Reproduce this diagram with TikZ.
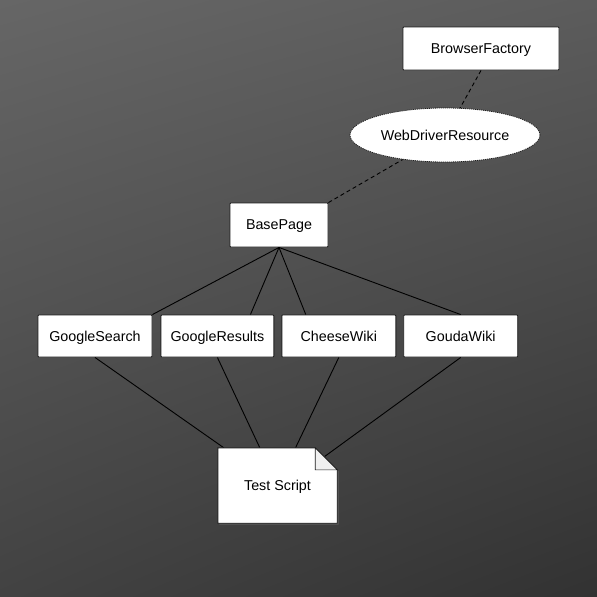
\documentclass[tikz,border=0pt]{standalone}
\usepackage{fontspec}
\setmainfont{Liberation Sans}
\usepackage{tikz}
\usetikzlibrary{positioning,shapes.geometric,shadows,shadings,calc}
\definecolor{bgtl}{RGB}{102,102,102}
\definecolor{bgtr}{RGB}{92,92,92}
\definecolor{bgbl}{RGB}{66,66,66}
\definecolor{bgbr}{RGB}{50,50,50}
\definecolor{edgegray}{RGB}{30,30,30}

\begin{document}
\begin{tikzpicture}[x=1pt, y=-1pt, every node/.style={font=\fontsize{14.3}{17}\selectfont}]
\tikzstyle{box}=[draw=edgegray, line width=0.9pt, rounded corners=0.8pt, fill=white, align=center, minimum width=114pt, minimum height=42pt, inner sep=0pt, text depth=0pt]
\tikzstyle{link}=[draw=black, line width=0.9pt]
\tikzstyle{dlink}=[link, dash pattern=on 4pt off 3pt]
\shade[upper left=bgtl, upper right=bgtr, lower left=bgbl, lower right=bgbr] (0,0) rectangle (597,597);
\useasboundingbox (0,0) rectangle (597,597);
\node[box, minimum width=156pt, minimum height=43pt] (bf) at (481,48.5) {BrowserFactory};
\node[ellipse, draw=edgegray, line width=0.8pt, dash pattern=on 1.2pt off 0.8pt, fill=white, minimum width=190pt, minimum height=54pt, inner sep=0pt] (wdr) at (445,135) {WebDriverResource};
\node[box, minimum width=98pt, minimum height=44pt] (bp) at (279,225) {BasePage};
\node[box] (gs) at (95,336) {GoogleSearch};
\node[box, minimum width=113pt, right=8pt of gs] (gr) {GoogleResults};
\node[box, right=7pt of gr] (cw) {CheeseWiki};
\node[box, right=7pt of cw] (gw) {GoudaWiki};
\node[minimum width=119pt, minimum height=75pt, inner sep=0pt] (ts) at (277.5,485.5) {};
\coordinate (tsfold) at ([xshift=-13pt, yshift=-9pt]ts.north east);
\draw[dlink] (bf.south) -- (wdr);
\draw[dlink] (bp.north east) -- (wdr);
\draw[link] (bp.south) -- (gs.north east);
\draw[link] (bp.south) -- (gr.33);
\draw[link] (bp.south) -- (cw.147);
\draw[link] (bp.south) -- (gw.north);
\draw[link] (gs.south) -- (ts);
\draw[link] (gr.south) -- (ts);
\draw[link] (cw.south) -- (ts);
\draw[link] (gw.south) -- (tsfold);
\filldraw[draw=edgegray, line width=0.9pt, fill=white, drop shadow={shadow xshift=1.5pt, shadow yshift=-1.5pt, opacity=0.45}]
  (ts.north west) -- ([xshift=-22pt]ts.north east) -- ([yshift=-22pt]ts.north east)
  -- (ts.south east) -- (ts.south west) -- cycle;
\filldraw[draw=edgegray, line width=0.6pt, fill=gray!12]
  ([xshift=-22pt]ts.north east) -- ([xshift=-22pt, yshift=-22pt]ts.north east) -- ([yshift=-22pt]ts.north east) -- cycle;
\node[text depth=0pt] (tstext) at (ts) {Test Script};
\end{tikzpicture}
\end{document}
